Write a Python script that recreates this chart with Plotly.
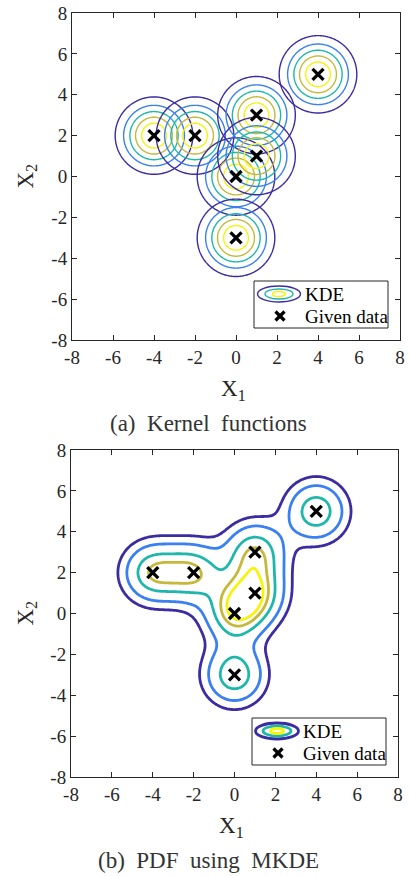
import numpy as np
import plotly.graph_objects as go

# ---------------- data ----------------
data_x1 = [-4, -2, 0, 1, 1, 0, 4]
data_x2 = [2, 2, 0, 3, 1, -3, 5]
bandwidth = 1.0
kernel_level_fractions = [1 / 6, 2 / 6, 3 / 6, 4 / 6, 5 / 6]      # of kernel peak
mkde_level_fractions = [0.145, 0.28, 0.49, 0.66, 0.79]              # of MKDE maximum
level_colors = ["#3b2ca2", "#3a80f0", "#1fb7ab", "#c6b83a", "#f7f30c"]
tick_values = [-8, -6, -4, -2, 0, 2, 4, 6, 8]
tick_labels = ["-8", "-6", "-4", "-2", "0", "2", "4", "6", "8"]
captions = ["(a)  Kernel  functions", "(b)  PDF  using  MKDE"]
legend_labels = ["KDE", "Given data"]

W, H = 409, 876
FONT = "Liberation Serif"
INK = "#262626"


def px(x):
    return x / W


def py(y):
    return 1 - y / H


def gauss(X, Y, cx, cy, h):
    return np.exp(-((X - cx) ** 2 + (Y - cy) ** 2) / (2 * h * h)) / (2 * np.pi * h * h)


def level_trace(x, y, z, level, color, width, xa, ya):
    return go.Contour(
        x=x, y=y, z=z, xaxis=xa, yaxis=ya,
        autocontour=False,
        contours=dict(start=level, end=level, size=1, coloring="lines"),
        colorscale=[[0, color], [1, color]],
        line=dict(width=width, smoothing=1),
        showscale=False, showlegend=False, hoverinfo="skip",
    )


fig = go.Figure()

# ---------- top: individual kernels ----------
peak = 1 / (2 * np.pi * bandwidth ** 2)
for cx, cy in zip(data_x1, data_x2):
    gx = np.linspace(cx - 2.6, cx + 2.6, 131)
    gy = np.linspace(cy - 2.6, cy + 2.6, 131)
    X, Y = np.meshgrid(gx, gy)
    Z = np.round(gauss(X, Y, cx, cy, bandwidth), 7)
    for frac, col in zip(kernel_level_fractions, level_colors):
        fig.add_trace(level_trace(np.round(gx, 4), np.round(gy, 4), Z,
                                  peak * frac, col, 1.4, "x", "y"))

fig.add_trace(go.Scatter(
    x=data_x1, y=data_x2, mode="markers", xaxis="x", yaxis="y",
    marker=dict(symbol="x-thin", size=11, line=dict(width=3.3, color="black")),
    showlegend=False, hoverinfo="skip",
))

# ---------- bottom: mixture KDE ----------
gx = np.linspace(-8, 8, 257)
gy = np.linspace(-8, 8, 257)
X, Y = np.meshgrid(gx, gy)
Z = np.zeros_like(X)
for cx, cy in zip(data_x1, data_x2):
    Z += gauss(X, Y, cx, cy, bandwidth)
Z /= len(data_x1)
zmax = Z.max()
Zr = np.round(Z, 7)
for frac, col in zip(mkde_level_fractions, level_colors):
    fig.add_trace(level_trace(np.round(gx, 4), np.round(gy, 4), Zr,
                              zmax * frac, col, 2.8, "x2", "y2"))
fig.add_trace(go.Scatter(
    x=data_x1, y=data_x2, mode="markers", xaxis="x2", yaxis="y2",
    marker=dict(symbol="x-thin", size=11, line=dict(width=3.3, color="black")),
    showlegend=False, hoverinfo="skip",
))

# ---------- axes ----------
axis_common = dict(
    range=[-8, 8], tickvals=tick_values, ticktext=tick_labels,
    ticks="inside", ticklen=5, tickwidth=1, tickcolor=INK,
    showline=True, linecolor=INK, linewidth=1, mirror="ticks",
    showgrid=False, zeroline=False, automargin=False,
    tickfont=dict(family=FONT, size=19, color=INK),
)
top_box = (72, 13, 400, 340)
bot_box = (71, 450, 398, 777)
fig.update_layout(
    xaxis=dict(domain=[px(top_box[0]), px(top_box[2])], anchor="y", **axis_common),
    yaxis=dict(domain=[py(top_box[3]), py(top_box[1])], anchor="x", **axis_common),
    xaxis2=dict(domain=[px(bot_box[0]), px(bot_box[2])], anchor="y2", **axis_common),
    yaxis2=dict(domain=[py(bot_box[3]), py(bot_box[1])], anchor="x2", **axis_common),
)

# ---------- annotations / hand-drawn legend ----------
ann = []
shapes = []
for box, cap, lw in [(top_box, captions[0], 1.4), (bot_box, captions[1], 2.8)]:
    x0, y0, x1, y1 = box
    cxp = (x0 + x1) / 2
    cyp = (y0 + y1) / 2
    ann.append(dict(text="X<sub>1</sub>", x=px(cxp - 3), y=py(y1 + 50), xref="paper", yref="paper",
                    showarrow=False, font=dict(family=FONT, size=23, color=INK),
                    xanchor="center", yanchor="middle"))
    ann.append(dict(text="X<sub>2</sub>", x=px(26), y=py(cyp), xref="paper", yref="paper",
                    showarrow=False, font=dict(family=FONT, size=23, color=INK), textangle=-90,
                    xanchor="center", yanchor="middle"))
    ann.append(dict(text=cap, x=px(208), y=py(y1 + 83), xref="paper", yref="paper",
                    showarrow=False, font=dict(family=FONT, size=23, color="#333333"),
                    xanchor="center", yanchor="middle"))
    # legend box
    lx0, ly0 = x1 - 146, y1 - 59
    lx1, ly1 = x1 - 12, y1 - 12
    shapes.append(dict(type="rect", xref="paper", yref="paper",
                       x0=px(lx0), x1=px(lx1), y0=py(ly1), y1=py(ly0),
                       line=dict(color=INK, width=1), fillcolor="white", layer="above"))
    ecx, ecy = lx0 + 25, ly0 + 13
    for (w_, h_, col) in [(43, 16, level_colors[0]), (28, 10, level_colors[2]), (13, 5, level_colors[4])]:
        shapes.append(dict(type="circle", xref="paper", yref="paper",
                           x0=px(ecx - w_ / 2), x1=px(ecx + w_ / 2),
                           y0=py(ecy + h_ / 2), y1=py(ecy - h_ / 2),
                           line=dict(color=col, width=lw), layer="above"))
    mcx, mcy = lx0 + 26, ly0 + 35
    for dx in (-1, 1):
        shapes.append(dict(type="line", xref="paper", yref="paper",
                           x0=px(mcx - 4.5), x1=px(mcx + 4.5),
                           y0=py(mcy - 4.5 * dx), y1=py(mcy + 4.5 * dx),
                           line=dict(color="black", width=3.2), layer="above"))
    ann.append(dict(text=legend_labels[0], x=px(lx0 + 49), y=py(ecy), xref="paper", yref="paper",
                    showarrow=False, font=dict(family=FONT, size=19, color="black"),
                    xanchor="left", yanchor="middle"))
    ann.append(dict(text=legend_labels[1], x=px(lx0 + 49), y=py(mcy), xref="paper", yref="paper",
                    showarrow=False, font=dict(family=FONT, size=19, color="black"),
                    xanchor="left", yanchor="middle"))

fig.update_layout(
    width=W, height=H, margin=dict(l=0, r=0, t=0, b=0),
    paper_bgcolor="white", plot_bgcolor="white",
    annotations=ann, shapes=shapes, showlegend=False,
)

fig.write_html("out.html", config={"displayModeBar": False},
               post_script="document.body.style.margin='0';document.body.style.overflow='hidden';")
